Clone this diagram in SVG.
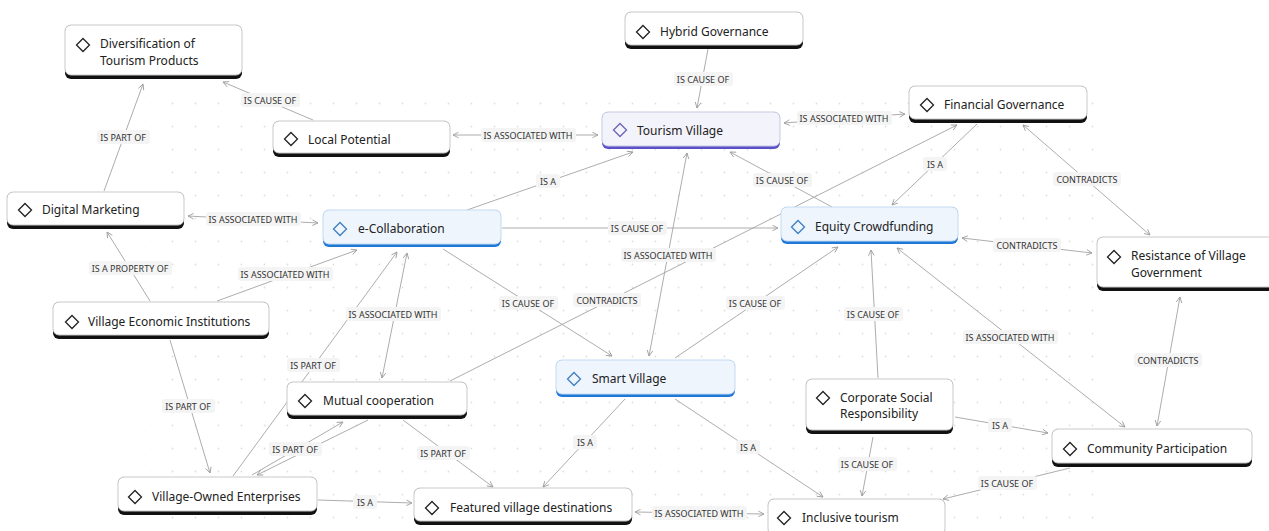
<svg xmlns="http://www.w3.org/2000/svg" width="1269" height="531" viewBox="0 0 1269 531">
<defs>
<pattern id="dots" x="0" y="0" width="23" height="23" patternUnits="userSpaceOnUse"><circle cx="11.5" cy="11.5" r="0.9" fill="#dedede"/></pattern>
<marker id="ar" viewBox="0 0 10 10" refX="9" refY="5" markerWidth="7" markerHeight="7" orient="auto-start-reverse" markerUnits="userSpaceOnUse"><path d="M1,1 L9,5 L1,9" fill="none" stroke="#9a9a9a" stroke-width="1.2"/></marker>
</defs>
<style>
.n text{font-family:"Noto Sans","Liberation Sans",sans-serif;font-size:12px;fill:#222}
.bar{fill:#111}
.box{fill:#fff;stroke:#c9c9c9;stroke-width:1}
.dia{fill:none;stroke:#222;stroke-width:1.3}
.blue .bar{fill:#1f78d6}
.blue .box{fill:#eef5fd;stroke:#c3daf1}
.blue .dia{stroke:#3d7fc2}
.purp .bar{fill:#5a50c8}
.purp .box{fill:#f3f3fb;stroke:#c9c9e2}
.purp .dia{stroke:#6a63b5}
.e line{stroke:#a3a3a3;stroke-width:0.9;fill:none}
.lb rect{fill:#f4f4f4}
.lb text{font-family:"Noto Sans","Liberation Sans",sans-serif;font-size:9px;fill:#333;text-anchor:middle}
</style>
<rect width="1269" height="531" fill="#fff"/>
<rect x="150" y="92" width="960" height="430" fill="url(#dots)"/>

<g id="connectors" class="e">
<line x1="313" y1="120" x2="223" y2="82" marker-end="url(#ar)"/>
<line x1="104" y1="191" x2="143" y2="84" marker-end="url(#ar)"/>
<line x1="453" y1="135" x2="598" y2="135" marker-start="url(#ar)" marker-end="url(#ar)"/>
<line x1="708" y1="49" x2="697" y2="108" marker-end="url(#ar)"/>
<line x1="784" y1="123" x2="905" y2="114" marker-start="url(#ar)" marker-end="url(#ar)"/>
<line x1="467" y1="210" x2="633" y2="152" marker-end="url(#ar)"/>
<line x1="502" y1="228" x2="778" y2="228" marker-end="url(#ar)"/>
<line x1="649" y1="356" x2="687" y2="153" marker-start="url(#ar)" marker-end="url(#ar)"/>
<line x1="450" y1="381" x2="957" y2="125" marker-end="url(#ar)"/>
<line x1="832" y1="207" x2="730" y2="152" marker-end="url(#ar)"/>
<line x1="977" y1="124" x2="892" y2="205" marker-end="url(#ar)"/>
<line x1="1150" y1="235" x2="1023" y2="125" marker-start="url(#ar)" marker-end="url(#ar)"/>
<line x1="962" y1="238" x2="1092" y2="253" marker-start="url(#ar)" marker-end="url(#ar)"/>
<line x1="188" y1="216" x2="318" y2="223" marker-start="url(#ar)" marker-end="url(#ar)"/>
<line x1="150" y1="301" x2="107" y2="232" marker-end="url(#ar)"/>
<line x1="217" y1="301" x2="357" y2="250" marker-end="url(#ar)"/>
<line x1="233" y1="476" x2="397" y2="252" marker-end="url(#ar)"/>
<line x1="382" y1="378" x2="407" y2="253" marker-start="url(#ar)" marker-end="url(#ar)"/>
<line x1="443" y1="249" x2="612" y2="356" marker-end="url(#ar)"/>
<line x1="675" y1="358" x2="838" y2="247" marker-end="url(#ar)"/>
<line x1="878" y1="378" x2="871" y2="250" marker-end="url(#ar)"/>
<line x1="897" y1="248" x2="1125" y2="427" marker-start="url(#ar)" marker-end="url(#ar)"/>
<line x1="1180" y1="297" x2="1157" y2="426" marker-start="url(#ar)" marker-end="url(#ar)"/>
<line x1="955" y1="417" x2="1048" y2="433" marker-end="url(#ar)"/>
<line x1="873" y1="437" x2="862" y2="496" marker-end="url(#ar)"/>
<line x1="1070" y1="468" x2="943" y2="499" marker-end="url(#ar)"/>
<line x1="675" y1="399" x2="823" y2="497" marker-end="url(#ar)"/>
<line x1="625" y1="399" x2="543" y2="487" marker-end="url(#ar)"/>
<line x1="403" y1="420" x2="493" y2="487" marker-end="url(#ar)"/>
<line x1="635" y1="512" x2="764" y2="514" marker-start="url(#ar)" marker-end="url(#ar)"/>
<line x1="318" y1="500" x2="412" y2="503" marker-end="url(#ar)"/>
<line x1="170" y1="340" x2="210" y2="473" marker-end="url(#ar)"/>
<line x1="252" y1="475" x2="343" y2="422" marker-end="url(#ar)"/>
<line x1="368" y1="420" x2="257" y2="475" marker-end="url(#ar)"/>
</g>

<g id="labels" class="lb">
<g><rect x="241" y="93" width="59" height="14" rx="3"/><text x="270" y="103.5">IS CAUSE OF</text></g>
<g><rect x="97" y="130" width="53" height="14" rx="3"/><text x="123" y="140.5">IS PART OF</text></g>
<g><rect x="481" y="128" width="95" height="14" rx="3"/><text x="528" y="138.5">IS ASSOCIATED WITH</text></g>
<g><rect x="674" y="72" width="59" height="14" rx="3"/><text x="703" y="82.5">IS CAUSE OF</text></g>
<g><rect x="797" y="111" width="95" height="14" rx="3"/><text x="844" y="121.5">IS ASSOCIATED WITH</text></g>
<g><rect x="536" y="174" width="24" height="14" rx="3"/><text x="548" y="184.5">IS A</text></g>
<g><rect x="608" y="221" width="59" height="14" rx="3"/><text x="637" y="231.5">IS CAUSE OF</text></g>
<g><rect x="621" y="248" width="95" height="14" rx="3"/><text x="668" y="258.5">IS ASSOCIATED WITH</text></g>
<g><rect x="573" y="293" width="68" height="14" rx="3"/><text x="607" y="303.5">CONTRADICTS</text></g>
<g><rect x="753" y="173" width="59" height="14" rx="3"/><text x="782" y="183.5">IS CAUSE OF</text></g>
<g><rect x="923" y="157" width="24" height="14" rx="3"/><text x="935" y="167.5">IS A</text></g>
<g><rect x="1053" y="172" width="68" height="14" rx="3"/><text x="1087" y="182.5">CONTRADICTS</text></g>
<g><rect x="993" y="238" width="68" height="14" rx="3"/><text x="1027" y="248.5">CONTRADICTS</text></g>
<g><rect x="206" y="212" width="95" height="14" rx="3"/><text x="253" y="222.5">IS ASSOCIATED WITH</text></g>
<g><rect x="89" y="261" width="83" height="14" rx="3"/><text x="130" y="271.5">IS A PROPERTY OF</text></g>
<g><rect x="238" y="267" width="95" height="14" rx="3"/><text x="285" y="277.5">IS ASSOCIATED WITH</text></g>
<g><rect x="287" y="358" width="53" height="14" rx="3"/><text x="313" y="368.5">IS PART OF</text></g>
<g><rect x="346" y="307" width="95" height="14" rx="3"/><text x="393" y="317.5">IS ASSOCIATED WITH</text></g>
<g><rect x="499" y="296" width="59" height="14" rx="3"/><text x="528" y="306.5">IS CAUSE OF</text></g>
<g><rect x="726" y="296" width="59" height="14" rx="3"/><text x="755" y="306.5">IS CAUSE OF</text></g>
<g><rect x="844" y="307" width="59" height="14" rx="3"/><text x="873" y="317.5">IS CAUSE OF</text></g>
<g><rect x="963" y="330" width="95" height="14" rx="3"/><text x="1010" y="340.5">IS ASSOCIATED WITH</text></g>
<g><rect x="1134" y="353" width="68" height="14" rx="3"/><text x="1168" y="363.5">CONTRADICTS</text></g>
<g><rect x="988" y="418" width="24" height="14" rx="3"/><text x="1000" y="428.5">IS A</text></g>
<g><rect x="838" y="457" width="59" height="14" rx="3"/><text x="867" y="467.5">IS CAUSE OF</text></g>
<g><rect x="978" y="476" width="59" height="14" rx="3"/><text x="1007" y="486.5">IS CAUSE OF</text></g>
<g><rect x="736" y="440" width="24" height="14" rx="3"/><text x="748" y="450.5">IS A</text></g>
<g><rect x="573" y="435" width="24" height="14" rx="3"/><text x="585" y="445.5">IS A</text></g>
<g><rect x="417" y="446" width="53" height="14" rx="3"/><text x="443" y="456.5">IS PART OF</text></g>
<g><rect x="652" y="506" width="95" height="14" rx="3"/><text x="699" y="516.5">IS ASSOCIATED WITH</text></g>
<g><rect x="353" y="495" width="24" height="14" rx="3"/><text x="365" y="505.5">IS A</text></g>
<g><rect x="162" y="399" width="53" height="14" rx="3"/><text x="188" y="409.5">IS PART OF</text></g>
<g><rect x="269" y="442" width="53" height="14" rx="3"/><text x="295" y="452.5">IS PART OF</text></g>
</g>

<g id="n-diversification" class="n"><rect class="bar" x="65" y="25" width="177" height="54" rx="6"/><rect class="box" x="65" y="25" width="177" height="50" rx="6"/><path class="dia" d="M83,38.5 L89.5,45 L83,51.5 L76.5,45 Z"/><text x="100" y="48">Diversification of</text><text x="100" y="65">Tourism Products</text></g>
<g id="n-local-potential" class="n"><rect class="bar" x="273" y="121" width="177" height="36" rx="6"/><rect class="box" x="273" y="121" width="177" height="32" rx="6"/><path class="dia" d="M291,132.5 L297.5,139 L291,145.5 L284.5,139 Z"/><text x="308" y="143.5">Local Potential</text></g>
<g id="n-hybrid" class="n"><rect class="bar" x="625" y="12" width="178" height="37" rx="6"/><rect class="box" x="625" y="12" width="178" height="33" rx="6"/><path class="dia" d="M643,25.5 L649.5,32 L643,38.5 L636.5,32 Z"/><text x="660" y="36">Hybrid Governance</text></g>
<g id="n-tourism-village" class="n purp"><rect class="bar" x="602" y="112" width="178" height="37" rx="6"/><rect class="box" x="602" y="112" width="178" height="34" rx="6"/><path class="dia" d="M620,123.5 L626.5,130 L620,136.5 L613.5,130 Z"/><text x="637" y="134.5">Tourism Village</text></g>
<g id="n-financial" class="n"><rect class="bar" x="909" y="86" width="178" height="37" rx="6"/><rect class="box" x="909" y="86" width="178" height="33" rx="6"/><path class="dia" d="M927,98.5 L933.5,105 L927,111.5 L920.5,105 Z"/><text x="944" y="109">Financial Governance</text></g>
<g id="n-equity" class="n blue"><rect class="bar" x="781" y="207" width="177" height="37" rx="6"/><rect class="box" x="781" y="207" width="177" height="34" rx="6"/><path class="dia" d="M798,220.5 L804.5,227 L798,233.5 L791.5,227 Z"/><text x="815" y="231">Equity Crowdfunding</text></g>
<g id="n-resistance" class="n"><rect class="bar" x="1097" y="237" width="180" height="54" rx="6"/><rect class="box" x="1097" y="237" width="180" height="50" rx="6"/><path class="dia" d="M1114,250.5 L1120.5,257 L1114,263.5 L1107.5,257 Z"/><text x="1131" y="260">Resistance of Village</text><text x="1131" y="277">Government</text></g>
<g id="n-digital-marketing" class="n"><rect class="bar" x="7" y="192" width="177" height="37" rx="6"/><rect class="box" x="7" y="192" width="177" height="33" rx="6"/><path class="dia" d="M25,203.5 L31.5,210 L25,216.5 L18.5,210 Z"/><text x="42" y="214">Digital Marketing</text></g>
<g id="n-e-collaboration" class="n blue"><rect class="bar" x="323" y="210" width="178" height="37" rx="6"/><rect class="box" x="323" y="210" width="178" height="34" rx="6"/><path class="dia" d="M340,222.5 L346.5,229 L340,235.5 L333.5,229 Z"/><text x="358" y="233">e-Collaboration</text></g>
<g id="n-vei" class="n"><rect class="bar" x="53" y="302" width="216" height="37" rx="6"/><rect class="box" x="53" y="302" width="216" height="33" rx="6"/><path class="dia" d="M72,315.5 L78.5,322 L72,328.5 L65.5,322 Z"/><text x="88" y="326">Village Economic Institutions</text></g>
<g id="n-mutual" class="n"><rect class="bar" x="287" y="382" width="180" height="37" rx="6"/><rect class="box" x="287" y="382" width="180" height="33" rx="6"/><path class="dia" d="M305,394.5 L311.5,401 L305,407.5 L298.5,401 Z"/><text x="323" y="405">Mutual cooperation</text></g>
<g id="n-smart-village" class="n blue"><rect class="bar" x="556" y="360" width="179" height="37" rx="6"/><rect class="box" x="556" y="360" width="179" height="34" rx="6"/><path class="dia" d="M574,372.5 L580.5,379 L574,385.5 L567.5,379 Z"/><text x="592" y="383">Smart Village</text></g>
<g id="n-csr" class="n"><rect class="bar" x="806" y="379" width="147" height="55" rx="6"/><rect class="box" x="806" y="379" width="147" height="51" rx="6"/><path class="dia" d="M823,391.5 L829.5,398 L823,404.5 L816.5,398 Z"/><text x="840" y="402">Corporate Social</text><text x="840" y="418">Responsibility</text></g>
<g id="n-community" class="n"><rect class="bar" x="1052" y="429" width="200" height="38" rx="6"/><rect class="box" x="1052" y="429" width="200" height="34" rx="6"/><path class="dia" d="M1070,442.5 L1076.5,449 L1070,455.5 L1063.5,449 Z"/><text x="1087" y="453">Community Participation</text></g>
<g id="n-voe" class="n"><rect class="bar" x="118" y="477" width="199" height="38" rx="6"/><rect class="box" x="118" y="477" width="199" height="34" rx="6"/><path class="dia" d="M135,490.5 L141.5,497 L135,503.5 L128.5,497 Z"/><text x="152" y="501">Village-Owned Enterprises</text></g>
<g id="n-featured" class="n"><rect class="bar" x="414" y="488" width="218" height="37" rx="6"/><rect class="box" x="414" y="488" width="218" height="33" rx="6"/><path class="dia" d="M432,501.5 L438.5,508 L432,514.5 L425.5,508 Z"/><text x="450" y="512">Featured village destinations</text></g>
<g id="n-inclusive" class="n"><rect class="bar" x="768" y="499" width="177" height="40" rx="6"/><rect class="box" x="768" y="499" width="177" height="36" rx="6"/><path class="dia" d="M784,511.5 L790.5,518 L784,524.5 L777.5,518 Z"/><text x="802" y="522">Inclusive tourism</text></g>
</svg>
